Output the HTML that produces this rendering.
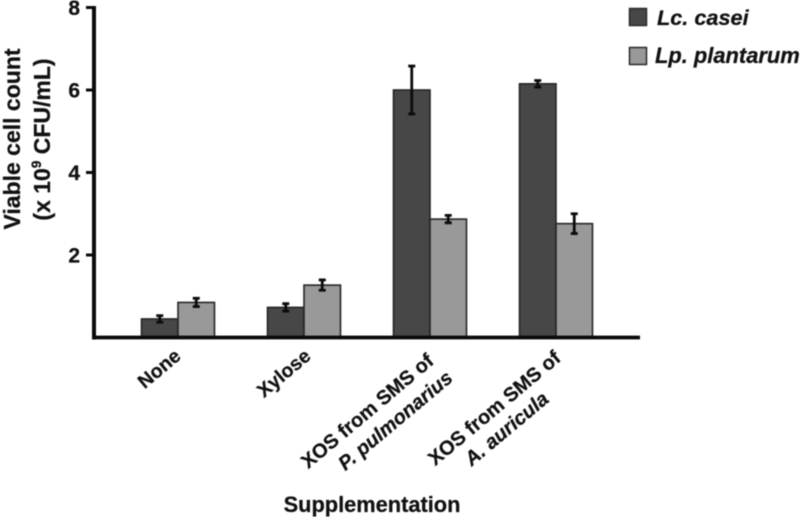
<!DOCTYPE html>
<html>
<head>
<meta charset="utf-8">
<style>
html,body{margin:0;padding:0;background:#fff;width:800px;height:517px;overflow:hidden}
svg{display:block;filter:blur(0.45px)}
text{font-family:"Liberation Sans",Arial,sans-serif;font-weight:bold;fill:#111;stroke:#111;stroke-width:0.25px}
</style>
</head>
<body>
<svg id="chart" width="800" height="517" viewBox="0 0 800 517" xmlns="http://www.w3.org/2000/svg">
  <g id="bars"></g>
  <g id="axes"></g>
  <text transform="translate(20,139) rotate(-90)" text-anchor="middle" font-size="23">Viable cell count</text>
  <text transform="translate(50,139.5) rotate(-90)" text-anchor="middle" font-size="23">(x 10<tspan font-size="13.5" dy="-9">9</tspan><tspan dy="9"> CFU/mL)</tspan></text>
  <text x="372" y="512" text-anchor="middle" font-size="21.8">Supplementation</text>
  <g><text transform="translate(182,358) rotate(-40)" text-anchor="end" font-size="19.5">None</text></g>
  <g><text transform="translate(312,358) rotate(-40)" text-anchor="end" font-size="19.5">Xylose</text></g>
  <g>
    <text transform="translate(435,363) rotate(-40)" text-anchor="end" font-size="20">XOS from SMS of</text>
    <text transform="translate(454,380) rotate(-40)" text-anchor="end" font-size="20" font-style="italic">P. pulmonarius</text>
  </g>
  <g>
    <text transform="translate(562,360) rotate(-40)" text-anchor="end" font-size="20">XOS from SMS of</text>
    <text transform="translate(550,401) rotate(-40)" text-anchor="end" font-size="20" font-style="italic">A. auricula</text>
  </g>
  <g>
    <rect x="629.5" y="8.5" width="17" height="17" fill="#474747" stroke="#2a2a2a" stroke-width="1.5"/>
    <text x="657" y="25" font-size="21.7" font-style="italic">Lc. casei</text>
    <rect x="629.5" y="47.5" width="17" height="17" fill="#999" stroke="#2a2a2a" stroke-width="1.5"/>
    <text x="655" y="63" font-size="21.9" font-style="italic">Lp. plantarum</text>
  </g>
</svg>
<script>
const categories = ["None", "Xylose", "XOS from SMS of P. pulmonarius", "XOS from SMS of A. auricula"];
const lcCasei = [0.45, 0.73, 6.0, 6.15];
const lpPlantarum = [0.85, 1.27, 2.87, 2.76];
const lcCaseiErr = [0.08, 0.09, 0.58, 0.08];
const lpPlantarumErr = [0.1, 0.125, 0.09, 0.24];
const yTicks = [2, 4, 6, 8];

const NS = "http://www.w3.org/2000/svg";
const y0 = 337.5, yUnit = 41.25;
function yScale(v) { return y0 - v * yUnit; }
function xCenter(i) { return 178 + i * 126; }
const barW = 36.5;
const bars = document.getElementById("bars");
const axes = document.getElementById("axes");

function mk(parent, tag, attrs) {
  const el = document.createElementNS(NS, tag);
  for (const k in attrs) el.setAttribute(k, attrs[k]);
  parent.appendChild(el);
  return el;
}

function drawSeries(values, errs, side, fill, prefix) {
  values.forEach(function (v, i) {
    const x = side < 0 ? xCenter(i) - barW : xCenter(i);
    const top = yScale(v);
    const g = mk(bars, "g", {});
    
    
    const r = mk(g, "rect", { x: x, y: top, width: barW, height: y0 - top, fill: fill, stroke: "#262626", "stroke-width": 1.6 });
    
    
    const cx = x + barW / 2;
    const hi = yScale(v + errs[i]), lo = yScale(v - errs[i]);
    const e = mk(g, "path", {
      d: "M" + cx + " " + hi + "V" + lo + "M" + (cx - 3.5) + " " + hi + "H" + (cx + 3.5) + "M" + (cx - 3.5) + " " + lo + "H" + (cx + 3.5),
      stroke: "#0c0c0c", "stroke-width": 2.8, fill: "none"
    });
    
    
  });
}
drawSeries(lcCasei, lcCaseiErr, -1, "#474747", "lc-casei");
drawSeries(lpPlantarum, lpPlantarumErr, 1, "#999999", "lp-plantarum");

const yAxis = mk(axes, "line", { x1: 94, x2: 94, y1: yScale(8) - 1.5, y2: y0 + 2, stroke: "#0a0a0a", "stroke-width": 4 });


const xAxis = mk(axes, "line", { x1: 92, x2: 640, y1: y0, y2: y0, stroke: "#0a0a0a", "stroke-width": 3.8 });



yTicks.forEach(function (t) {
  const tick = mk(axes, "line", { x1: 86, x2: 94, y1: yScale(t), y2: yScale(t), stroke: "#0a0a0a", "stroke-width": 3 });
  
  
  const lab = mk(axes, "text", { x: 80, y: yScale(t) + 7.5, "text-anchor": "end", "font-size": 21 });
  lab.textContent = t;
  
  
});
</script>
</body>
</html>
